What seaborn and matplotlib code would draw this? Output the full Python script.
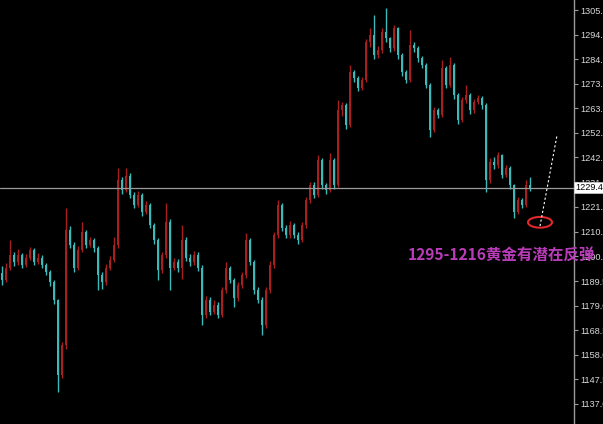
import numpy as np
import pandas as pd
import seaborn as sns
import matplotlib.pyplot as plt
from matplotlib.patches import Ellipse

# gold candles (oldest -> newest)
opens = [1193.0, 1190.0, 1195.1, 1200.6, 1197.6, 1200.6, 1196.4, 1199.4, 1202.8, 1197.6,
         1199.4, 1196.4, 1193.4, 1189.1, 1181.4, 1149.4, 1162.2, 1211.3, 1204.9, 1195.1,
         1202.8, 1210.5, 1204.9, 1207.0, 1203.6, 1192.1, 1189.1, 1195.1, 1198.5, 1204.9,
         1232.7, 1228.4, 1234.4, 1226.3, 1222.0, 1226.3, 1219.0, 1222.0, 1213.4, 1207.0,
         1194.2, 1200.6, 1214.7, 1195.1, 1197.6, 1195.1, 1207.0, 1199.4, 1197.6, 1200.6,
         1195.1, 1175.0, 1181.4, 1176.3, 1179.3, 1175.0, 1185.7, 1195.1, 1190.0, 1182.3,
         1187.8, 1192.1, 1207.0, 1197.6, 1185.7, 1181.4, 1170.7, 1185.7, 1196.4, 1209.2,
         1222.0, 1212.2, 1209.2, 1213.4, 1209.2, 1207.0, 1213.4, 1224.1, 1230.5, 1226.3,
         1241.2, 1230.5, 1228.4, 1241.2, 1230.5, 1262.6, 1264.7, 1256.2, 1278.8, 1276.2,
         1272.0, 1275.4, 1291.6, 1294.6, 1286.1, 1288.2, 1295.9, 1293.3, 1289.1, 1297.6,
         1286.1, 1278.8, 1275.4, 1290.3, 1289.1, 1284.8, 1281.8, 1273.3, 1254.0, 1262.6,
         1260.4, 1280.5, 1273.3, 1281.8, 1269.0, 1258.3, 1266.9, 1269.0, 1262.6, 1266.0,
         1267.7, 1264.7, 1232.7, 1240.4, 1239.1, 1243.4, 1234.8, 1237.8, 1230.5, 1219.0,
         1224.1, 1222.0, 1230.5]
closes = [1190.0, 1195.1, 1200.6, 1197.6, 1200.6, 1196.4, 1199.4, 1202.8, 1197.6, 1199.4,
          1196.4, 1193.4, 1189.1, 1181.4, 1149.4, 1162.2, 1211.3, 1204.9, 1195.1, 1202.8,
          1210.5, 1204.9, 1207.0, 1203.6, 1192.1, 1189.1, 1195.1, 1198.5, 1204.9, 1232.7,
          1228.4, 1234.4, 1226.3, 1222.0, 1226.3, 1219.0, 1222.0, 1213.4, 1207.0, 1194.2,
          1200.6, 1214.7, 1195.1, 1197.6, 1195.1, 1207.0, 1199.4, 1197.6, 1200.6, 1195.1,
          1175.0, 1181.4, 1176.3, 1179.3, 1175.0, 1185.7, 1195.1, 1190.0, 1182.3, 1187.8,
          1192.1, 1207.0, 1197.6, 1185.7, 1181.4, 1170.7, 1185.7, 1196.4, 1209.2, 1222.0,
          1212.2, 1209.2, 1213.4, 1209.2, 1207.0, 1213.4, 1224.1, 1230.5, 1226.3, 1241.2,
          1230.5, 1228.4, 1241.2, 1230.5, 1262.6, 1264.7, 1256.2, 1278.8, 1276.2, 1272.0,
          1275.4, 1291.6, 1294.6, 1286.1, 1288.2, 1295.9, 1293.3, 1289.1, 1297.6, 1286.1,
          1278.8, 1275.4, 1290.3, 1289.1, 1284.8, 1281.8, 1273.3, 1254.0, 1262.6, 1260.4,
          1280.5, 1273.3, 1281.8, 1269.0, 1258.3, 1266.9, 1269.0, 1262.6, 1266.0, 1267.7,
          1264.7, 1232.7, 1240.4, 1239.1, 1243.4, 1234.8, 1237.8, 1230.5, 1219.0, 1224.1,
          1222.0, 1230.5, 1229.43]
highs = [1196.0, 1197.0, 1207.0, 1202.0, 1203.0, 1201.5, 1201.0, 1204.0, 1203.5, 1201.5,
         1200.5, 1197.0, 1194.0, 1190.0, 1182.0, 1163.5, 1220.7, 1213.0, 1206.0, 1204.5,
         1214.7, 1211.5, 1208.5, 1208.0, 1204.5, 1193.5, 1196.8, 1200.0, 1208.3, 1237.8,
         1234.0, 1237.8, 1235.5, 1227.5, 1228.0, 1227.0, 1223.8, 1223.0, 1214.5, 1208.0,
         1202.0, 1222.9, 1216.0, 1199.5, 1199.0, 1213.4, 1208.5, 1201.0, 1202.5, 1202.0,
         1196.5, 1183.0, 1182.5, 1181.5, 1180.5, 1187.0, 1197.6, 1196.0, 1191.0, 1189.0,
         1193.5, 1210.0, 1208.0, 1198.5, 1187.0, 1182.5, 1187.0, 1198.0, 1210.5, 1224.1,
         1223.0, 1213.5, 1215.0, 1214.5, 1210.5, 1214.8, 1225.5, 1232.0, 1232.0, 1243.4,
         1242.0, 1231.5, 1244.2, 1242.0, 1266.9, 1266.0, 1265.5, 1281.8, 1279.8, 1277.0,
         1276.8, 1293.0, 1297.6, 1303.2, 1290.0, 1297.5, 1306.1, 1294.0, 1298.9, 1298.0,
         1287.0, 1279.5, 1296.8, 1291.5, 1290.0, 1285.5, 1282.5, 1274.0, 1264.0, 1263.5,
         1283.9, 1281.5, 1285.2, 1282.5, 1269.8, 1268.0, 1273.3, 1270.0, 1267.5, 1269.0,
         1268.5, 1265.5, 1242.0, 1242.5, 1244.6, 1244.0, 1239.0, 1238.5, 1231.0, 1225.5,
         1225.0, 1232.7, 1233.9]
lows = [1188.0, 1189.0, 1194.0, 1196.0, 1196.5, 1195.0, 1195.5, 1198.5, 1196.5, 1196.8,
        1195.2, 1192.0, 1187.5, 1179.5, 1142.1, 1148.0, 1160.5, 1203.5, 1193.5, 1194.0,
        1202.0, 1203.5, 1204.0, 1202.0, 1185.7, 1186.0, 1188.0, 1194.0, 1197.5, 1203.5,
        1226.5, 1227.5, 1225.0, 1220.5, 1221.0, 1217.5, 1218.0, 1212.0, 1205.5, 1190.0,
        1193.0, 1199.5, 1185.7, 1194.0, 1193.5, 1190.5, 1198.0, 1196.0, 1196.5, 1193.8,
        1170.7, 1173.5, 1175.0, 1175.5, 1173.8, 1174.2, 1184.5, 1188.5, 1178.4, 1181.0,
        1186.5, 1191.0, 1196.5, 1184.0, 1180.0, 1166.5, 1169.5, 1184.5, 1195.0, 1208.0,
        1211.0, 1207.8, 1208.0, 1208.0, 1205.5, 1206.0, 1212.0, 1223.0, 1225.0, 1225.5,
        1229.0, 1226.5, 1227.5, 1229.0, 1229.5, 1260.0, 1254.5, 1255.5, 1274.5, 1270.5,
        1271.0, 1274.5, 1289.5, 1284.5, 1285.0, 1287.0, 1291.8, 1287.5, 1288.0, 1284.5,
        1277.0, 1274.0, 1274.5, 1287.5, 1283.0, 1280.5, 1272.0, 1251.0, 1253.0, 1259.0,
        1259.5, 1272.0, 1272.5, 1267.5, 1256.8, 1257.5, 1265.5, 1261.0, 1261.5, 1265.0,
        1263.0, 1227.5, 1231.5, 1237.5, 1238.0, 1233.5, 1233.8, 1229.0, 1216.4, 1218.0,
        1220.5, 1221.0, 1228.0]

tick_values = [1305.30, 1294.80, 1284.30, 1273.80, 1263.30, 1252.80, 1242.30, 1231.80,
               1221.30, 1210.50, 1200.00, 1189.50, 1179.00, 1168.50, 1158.00, 1147.50, 1137.00]
last_price = 1229.43
note = "1295-1216黄金有潜在反弹"

df = pd.DataFrame({"open": opens, "high": highs, "low": lows, "close": closes})
df["i"] = np.arange(len(df))
df["up"] = df["close"] >= df["open"]

up_col = "#a81f1f"
down_col = "#3cbaba"

sns.set_theme(style="dark", rc={"axes.facecolor": "black", "figure.facecolor": "black"})
plt.rcParams["font.family"] = ["Noto Sans CJK SC", "DejaVu Sans"]

fig = plt.figure(figsize=(6.03, 4.24), dpi=100)
ax = fig.add_axes([0, 0, 574 / 603, 1])
ax.set_facecolor("black")

colors = np.where(df["up"], up_col, down_col)
ax.vlines(df["i"], df["low"], df["high"], colors=colors, linewidth=1.0)
body_lo = df[["open", "close"]].min(axis=1)
body_h = (df["close"] - df["open"]).abs().clip(lower=0.3)
ax.bar(df["i"], body_h, bottom=body_lo, width=0.55, color=colors, linewidth=0)

# current price line
ax.axhline(last_price, color="#9a9a9a", linewidth=0.9)

ax.set_xlim(-0.5, 143)
ax.set_ylim(1128.4, 1309.6)

ax.yaxis.tick_right()
ax.set_yticks(tick_values)
ax.set_yticklabels([f"{v:.2f}" for v in tick_values], family="Liberation Sans")
ax.tick_params(axis="y", colors="#9a9a9a", labelcolor="#d8d8d8", labelsize=6.6,
               length=3, width=0.8, pad=1.5, right=True)
ax.set_xticks([])
for s in ["top", "bottom", "left"]:
    ax.spines[s].set_visible(False)
ax.spines["right"].set_color("#9a9a9a")
ax.spines["right"].set_linewidth(1.0)
ax.grid(False)

ax.text(1.003, last_price, f"{last_price:.2f}", transform=ax.get_yaxis_transform(),
        va="center", ha="left", fontsize=6.6, color="black", family="Liberation Sans",
        bbox=dict(boxstyle="square,pad=0.15", fc="white", ec="#cfcfcf", lw=0.5),
        clip_on=False, zorder=5)

# projected rebound hint
ax.plot([134.5, 138.8], [1213.0, 1252.2], color="white", linestyle=(0, (2, 2)), linewidth=0.8)
ax.add_patch(Ellipse((134.5, 1214.6), width=6.0, height=4.6, fill=False,
                     edgecolor="#e0282d", linewidth=1.5))

ax.text(101.5, 1200.2, note, fontsize=11.2, fontweight="bold", color="#b83cb8",
        ha="left", va="center", clip_on=False, zorder=6)

fig.savefig("out.png", dpi=100, facecolor="black")
